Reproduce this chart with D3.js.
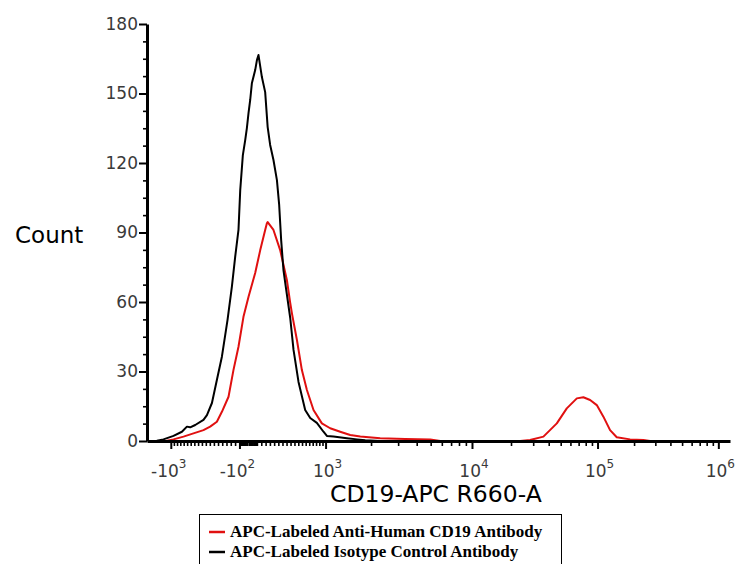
<!DOCTYPE html>
<html>
<head>
<meta charset="utf-8">
<title>CD19-APC histogram</title>
<script src="https://d3js.org/d3.v7.min.js"></script>
<style>
	body { margin: 0; background: #fff; font-family: "DejaVu Sans", Verdana, sans-serif; }
	.curve { fill: none; stroke-width: 2px; stroke-linejoin: round; }
	.tick-label { fill: #3a3a3a; font-size: 16px; }
</style>
</head>
<body>
<script>
	var width = 737,
			height = 564;

	// events per channel
	var blackX = [-1248, -1126, -956, -826, -753, -707, -638, -530, -486, -424, -364, -304, -238, -187, -149, -111, -91, -61, -34, -15,
		4, 23, 42, 80, 100, 118, 157, 195, 224, 253, 292, 333, 360, 384, 412, 446, 496, 538, 603, 693,
		764, 862, 966, 1022, 1136, 1396, 1625, 1836, 2290];
	var blackY = [0.1, 0.7, 2.2, 4.0, 6.2, 5.9, 6.9, 9.1, 11.2, 16.4, 26.3, 36.4, 52.2, 66.6, 79.5, 91.1, 108.3, 123.4, 129.9, 135.1,
		141.6, 147.2, 154.4, 160.1, 164.4, 166.6, 157.1, 150.6, 135.5, 127.8, 121.3, 112.6, 101.9, 86.7, 73.8, 65.2, 53.1, 39.3, 25.5, 13.4,
		9.9, 7.8, 4.0, 2.2, 1.9, 1.2, 0.7, 0.3, 0];

	var redX = [-1066, -956, -803, -662, -530, -446, -364, -304, -226, -169, -111, -54, 4, 80, 138, 195, 215, 224, 292, 372,
		454, 496, 517, 582, 648, 717, 812, 940, 1078, 1261, 1468, 1706, 2290, 3350, 4963, 5846, 23628, 28351, 36241, 46506,
		56030, 67654, 76547, 86869, 98579, 111730, 126790, 143920, 185350, 238770, 271190];
	var redY = [0.1, 0.7, 1.9, 3.3, 4.7, 6.2, 8.3, 12.6, 19.1, 30.6, 40.7, 53.6, 62.3, 72.5, 82.4, 91.1, 94.0, 94.5, 91.1, 82.4,
		69.5, 59.6, 55.2, 43.6, 30.6, 22.0, 13.4, 7.6, 5.5, 4.0, 2.6, 1.9, 1.2, 0.9, 0.7, 0, 0, 0.4, 1.9, 7.6,
		14.1, 18.4, 18.9, 17.7, 15.5, 10.5, 4.7, 1.6, 0.7, 0.4, 0];

	var yTicks = [0, 30, 60, 90, 120, 150, 180];
	var xMajor = [-1000, -100, 1000, 10000, 100000, 1000000];
	var xLabels = [["-10", "3"], ["-10", "2"], ["10", "3"], ["10", "4"], ["10", "5"], ["10", "6"]];
	var legendNames = ["APC-Labeled Anti-Human CD19 Antibody", "APC-Labeled Isotype Control Antibody"];
	var legendColors = ["#e01010", "#000"];

	// biexponential (logicle-like) display transform
	var A = 122, P = 3.886;
	function biexInv(u) {
		var a = Math.abs(u);
		var v = A * (Math.exp(a) - P * P * Math.exp(-a / P) + P * P - 1);
		return u < 0 ? -v : v;
	}
	function biex(x) {
		var ax = Math.abs(x), lo = 0, hi = 20;
		for (var i = 0; i < 60; i++) {
			var mid = (lo + hi) / 2;
			if (biexInv(mid) < ax) lo = mid; else hi = mid;
		}
		return x < 0 ? -lo : lo;
	}

	var uScale = d3.scaleLinear()
			.domain([biex(-1450), biex(1.25e6)])
			.range([147, 730]);
	function x(v) { return uScale(biex(v)); }
	x.range = function() { return uScale.range(); };
	x.copy = function() { return x; };

	var y = d3.scaleLinear()
			.domain([0, 180])
			.range([441, 24]);

	var svg = d3.select("body").append("svg")
			.attr("width", width)
			.attr("height", height);

	// curves
	var line = d3.line()
			.x(function(d) { return x(d[0]); })
			.y(function(d) { return y(d[1]); });

	svg.append("path")
			.attr("class", "curve")
			.attr("stroke", legendColors[0])
			.attr("d", line(d3.zip(redX, redY)));

	svg.append("path")
			.attr("class", "curve")
			.attr("stroke", legendColors[1])
			.attr("d", line(d3.zip(blackX, blackY)));

	// x axis minor ticks
	var xMinor = [];
	for (var v = 10; v < 100; v += 10) { xMinor.push(v, -v); }
	for (var v = 150; v < 1000; v += 50) { xMinor.push(v, -v); }
	xMinor.push(100);
	[1000, 10000, 100000].forEach(function(dec) {
		for (var m = 2; m < 10; m++) xMinor.push(m * dec);
	});
	xMinor = xMinor.filter(function(v) { return v > -1450 && v < 1.25e6; });

	var xAxis = svg.append("g")
			.attr("transform", "translate(0,441)");

	xAxis.append("g")
			.call(d3.axisBottom(x).tickValues(xMinor).tickSize(5).tickSizeOuter(0).tickFormat(""))
			.call(function(g) { g.select(".domain").remove(); })
			.selectAll("line").attr("stroke-width", 1.6);

	xAxis.append("g")
			.call(d3.axisBottom(x).tickValues(xMajor).tickSize(8).tickSizeOuter(0).tickFormat(""))
			.call(function(g) { g.select(".domain").attr("stroke-width", 3); })
			.selectAll("line").attr("stroke-width", 2);

	var xl = xAxis.selectAll(".xlab")
			.data(xMajor)
		.enter().append("text")
			.attr("class", "tick-label")
			.attr("x", function(d) { return x(d) + (d < 0 ? -2 : 2); })
			.attr("y", 36)
			.attr("text-anchor", "middle")
			.style("font-size", "17px");
	xl.append("tspan").text(function(d, i) { return xLabels[i][0]; });
	xl.append("tspan")
			.attr("dy", -9)
			.style("font-size", "12px")
			.text(function(d, i) { return xLabels[i][1]; });

	// y axis
	var yMinor = d3.range(0, 180, 7.5).filter(function(v) { return v % 30 !== 0; });

	var yAxis = svg.append("g")
			.attr("transform", "translate(147,0)");

	yAxis.append("g")
			.call(d3.axisLeft(y).tickValues(yMinor).tickSize(4).tickSizeOuter(0).tickFormat(""))
			.call(function(g) { g.select(".domain").remove(); })
			.selectAll("line").attr("stroke-width", 1.6);

	yAxis.append("g")
			.call(d3.axisLeft(y).tickValues(yTicks).tickSize(8).tickSizeOuter(0))
			.call(function(g) {
				g.select(".domain").attr("stroke-width", 3);
				g.selectAll("line").attr("stroke-width", 2);
				g.selectAll("text")
						.attr("class", "tick-label")
						.attr("x", -9)
						.style("font-size", "17px")
						.style("font-family", "DejaVu Sans, sans-serif");
			});

	// titles
	svg.append("text")
			.attr("x", 15)
			.attr("y", 243)
			.style("font-size", "23px")
			.text("Count");

	svg.append("text")
			.attr("x", 330)
			.attr("y", 502)
			.style("font-size", "23.5px")
			.text("CD19-APC R660-A");

	// legend
	var legend = svg.append("g");
	legend.append("rect")
			.attr("x", 199.5)
			.attr("y", 514.5)
			.attr("width", 362)
			.attr("height", 60)
			.attr("fill", "none")
			.attr("stroke", "#000");

	var items = legend.selectAll(".item")
			.data(legendNames)
		.enter().append("g")
			.attr("transform", function(d, i) { return "translate(0," + (537 + i * 20) + ")"; });

	items.append("line")
			.attr("x1", 209).attr("x2", 225)
			.attr("y1", -5).attr("y2", -5)
			.attr("stroke", function(d, i) { return legendColors[i]; })
			.attr("stroke-width", 2.5);

	items.append("text")
			.attr("x", 230)
			.style("font-family", "Liberation Serif, Times New Roman, serif")
			.style("font-weight", "bold")
			.style("font-size", "17px")
			.text(function(d) { return d; });
</script>
</body>
</html>
